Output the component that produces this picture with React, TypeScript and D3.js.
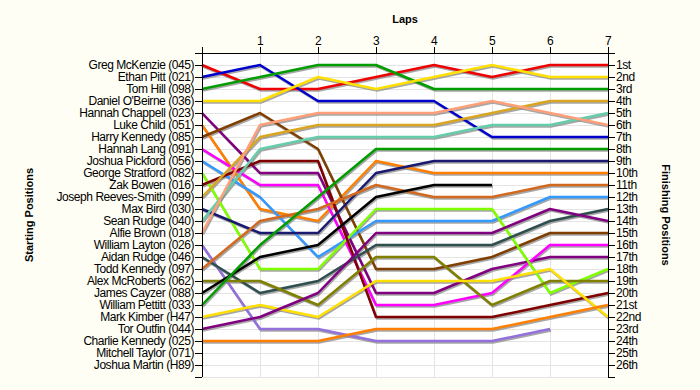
import * as d3 from 'd3'

const WIDTH = 700
const HEIGHT = 390
const BG = '#fffef4'
const PLOT_BG = '#ffffff'
const GRID = '#e4e4e4'
const FONT = 'Arial, "Liberation Sans", sans-serif'

const lapTicks = [0, 1, 2, 3, 4, 5, 6, 7]

const starters = [
  'Greg McKenzie (045)',
  'Ethan Pitt (021)',
  'Tom Hill (098)',
  "Daniel O'Beirne (036)",
  'Hannah Chappell (023)',
  'Luke Child (051)',
  'Harry Kennedy (085)',
  'Hannah Lang (091)',
  'Joshua Pickford (056)',
  'George Stratford (082)',
  'Zak Bowen (016)',
  'Joseph Reeves-Smith (099)',
  'Max Bird (030)',
  'Sean Rudge (040)',
  'Alfie Brown (018)',
  'William Layton (026)',
  'Aidan Rudge (046)',
  'Todd Kennedy (097)',
  'Alex McRoberts (062)',
  'James Cayzer (088)',
  'William Pettitt (033)',
  'Mark Kimber (H47)',
  'Tor Outfin (044)',
  'Charlie Kennedy (025)',
  'Mitchell Taylor (071)',
  'Joshua Martin (H89)',
]

const finishLabels = [
  '1st', '2nd', '3rd', '4th', '5th', '6th', '7th', '8th', '9th', '10th',
  '11th', '12th', '13th', '14th', '15th', '16th', '17th', '18th', '19th',
  '20th', '21st', '22nd', '23rd', '24th', '25th', '26th',
]

// position after each lap (index 0 = grid), null = retired
const positions: (number | null)[][] = [
  [1, 3, 3, 2, 1, 2, 1, 1], // Greg McKenzie
  [2, 1, 4, 4, 4, 7, 7, 7], // Ethan Pitt
  [3, 2, 1, 1, 3, 3, 3, 3], // Tom Hill
  [4, 4, 2, 3, 2, 1, 2, 2], // Daniel O'Beirne
  [5, 10, 10, 20, 20, 18, 17, 17], // Hannah Chappell
  [6, 13, 14, 9, 10, 10, 10, 10], // Luke Child
  [7, 5, 8, 18, 18, 17, 15, 15], // Harry Kennedy
  [8, 11, 11, 21, 21, 20, 16, 16], // Hannah Lang
  [9, 12, 17, 14, 14, 14, 12, 12], // Joshua Pickford
  [10, 18, 18, 13, 13, 13, 20, 18], // George Stratford
  [11, 9, 9, 22, 22, 22, 21, 20], // Zak Bowen
  [12, 7, 6, 6, 6, 5, 4, 4], // Joseph Reeves-Smith
  [13, 15, 15, 10, 9, 9, 9, 9], // Max Bird
  [14, 8, 7, 7, 7, 6, 6, 5], // Sean Rudge
  [15, 6, 5, 5, 5, 4, 5, 6], // Alfie Brown
  [16, 23, 23, 24, 24, 24, 23, null], // William Layton
  [17, 20, 19, 16, 16, 16, 14, 13], // Aidan Rudge
  [18, 14, 13, 11, 12, 12, 11, 11], // Todd Kennedy
  [19, 19, 21, 17, 17, 21, 19, 19], // Alex McRoberts
  [20, 17, 16, 12, 11, 11, null, null], // James Cayzer
  [21, 16, 12, 8, 8, 8, 8, 8], // William Pettitt
  [22, 21, 22, 19, 19, 19, 18, 22], // Mark Kimber
  [23, 22, 20, 15, 15, 15, 13, 14], // Tor Outfin
  [24, 24, 24, 23, 23, 23, 22, 21], // Charlie Kennedy
]

const colors = [
  '#ee0000', '#0000cc', '#009c00', '#ffe000', '#800080', '#ff8000',
  '#7f3f00', '#ff00ff', '#3399ff', '#80ff00', '#800000', '#daa520',
  '#191970', '#66cdaa', '#ffa07a', '#9370db', '#2f4f4f', '#d2691e',
  '#808000', '#000000', '#009c00', '#ffe000', '#800080', '#ff8000',
]

export default function App() {
  const x = d3.scaleLinear().domain([0, 7]).range([202, 608])
  const y = d3.scaleLinear().domain([0, 27]).range([53, 377])
  const posTicks = d3.range(0, 28)

  const line = d3
    .line<number | null>()
    .defined((d) => d != null)
    .x((_, i) => x(i))
    .y((d) => y(d ?? 0))

  const [x0, x1] = x.range()
  const [y0, y1] = y.range()

  return (
    <svg
      width={WIDTH}
      height={HEIGHT}
      style={{ position: 'absolute', left: 0, top: 0, background: BG }}
      fontFamily={FONT}
    >
      <rect width={WIDTH} height={HEIGHT} fill={BG} />
      <rect x={x0} y={y0} width={x1 - x0} height={y1 - y0} fill={PLOT_BG} />

      {/* grid */}
      <g stroke={GRID} strokeWidth={1}>
        {posTicks.slice(1).map((p) => (
          <line key={'h' + p} x1={x0} x2={x1} y1={y(p) + 0.5} y2={y(p) + 0.5} />
        ))}
        {lapTicks.slice(1, -1).map((l) => (
          <line key={'v' + l} x1={x(l) + 0.5} x2={x(l) + 0.5} y1={y0} y2={y1} />
        ))}
      </g>

      {/* race lines: shadow first, then colour */}
      <g fill="none" strokeLinejoin="round">
        {positions.map((p, i) => (
          <path
            key={'s' + i}
            d={line(p) ?? ''}
            stroke="#8a8a8a"
            strokeOpacity={0.75}
            strokeWidth={2.5}
            transform="translate(1,1.5)"
          />
        ))}
        {positions.map((p, i) => (
          <path key={'l' + i} d={line(p) ?? ''} stroke={colors[i]} strokeWidth={2.5} />
        ))}
      </g>

      {/* axes */}
      <g stroke="#000" strokeWidth={1} shapeRendering="crispEdges">
        <line x1={x0 - 7} x2={x1 + 7} y1={y0} y2={y0} />
        <line x1={x0} x2={x0} y1={y0 - 6} y2={y1} />
        <line x1={x1} x2={x1} y1={y0 - 6} y2={y1} />
        {lapTicks.map((l) => (
          <line key={'tx' + l} x1={x(l)} x2={x(l)} y1={y0 - 6} y2={y0} />
        ))}
        {posTicks.map((p) => (
          <g key={'ty' + p}>
            <line x1={x0 - 7} x2={x0} y1={y(p)} y2={y(p)} />
            <line x1={x1} x2={x1 + 7} y1={y(p)} y2={y(p)} />
          </g>
        ))}
      </g>

      <g fontSize={12} fill="#000" letterSpacing={-0.45}>
        {lapTicks.slice(1).map((l) => (
          <text key={'lx' + l} x={x(l)} y={y0 - 8} textAnchor="middle">
            {l}
          </text>
        ))}
        {starters.map((s, i) => (
          <text key={'sl' + i} x={x0 - 8} y={y(i + 1)} dy="0.35em" textAnchor="end">
            {s}
          </text>
        ))}
        {finishLabels.map((s, i) => (
          <text key={'fl' + i} x={x1 + 8} y={y(i + 1)} dy="0.35em">
            {s}
          </text>
        ))}
      </g>

      <g fontSize={11} fontWeight="bold" fill="#000" textAnchor="middle">
        <text x={(x0 + x1) / 2} y={23}>
          Laps
        </text>
        <text transform={`translate(33,${(y0 + y1) / 2}) rotate(-90)`}>Starting Positions</text>
        <text transform={`translate(662,${(y0 + y1) / 2}) rotate(90)`}>Finishing Positions</text>
      </g>
    </svg>
  )
}
